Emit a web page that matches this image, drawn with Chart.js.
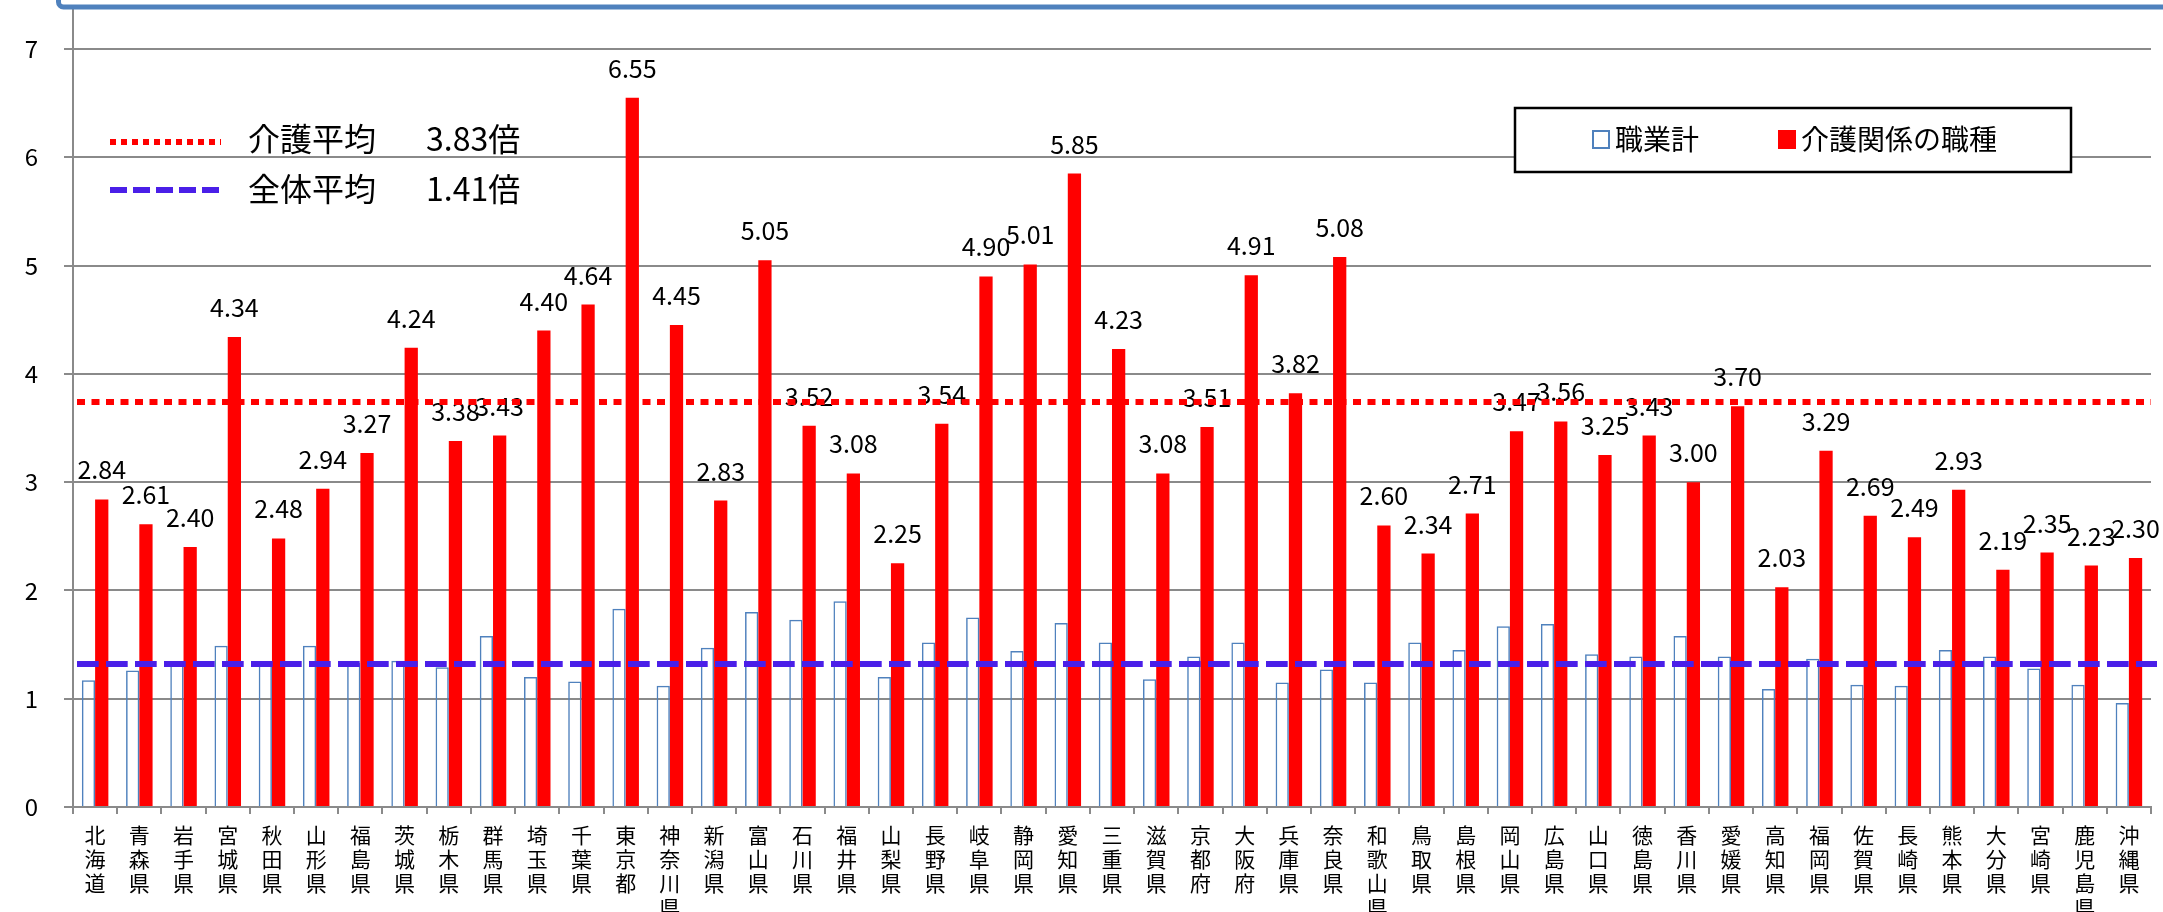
<!DOCTYPE html>
<html>
<head>
<meta charset="utf-8">
<script src="https://cdn.jsdelivr.net/npm/chart.js@4.4.1/dist/chart.umd.min.js"></script>
<style>
html,body{margin:0;padding:0;background:#fff;}
#wrap{width:2163px;height:912px;position:relative;}
</style>
</head>
<body>
<div id="wrap"><canvas id="c"></canvas></div>
<script>
// ---- data ----
const prefectures = ['北海道','青森県','岩手県','宮城県','秋田県','山形県','福島県','茨城県','栃木県','群馬県','埼玉県','千葉県','東京都','神奈川県','新潟県','富山県','石川県','福井県','山梨県','長野県','岐阜県','静岡県','愛知県','三重県','滋賀県','京都府','大阪府','兵庫県','奈良県','和歌山県','鳥取県','島根県','岡山県','広島県','山口県','徳島県','香川県','愛媛県','高知県','福岡県','佐賀県','長崎県','熊本県','大分県','宮崎県','鹿児島県','沖縄県'];
const allJobs = [1.17,1.26,1.33,1.49,1.33,1.49,1.33,1.35,1.29,1.58,1.20,1.16,1.83,1.12,1.47,1.80,1.73,1.90,1.20,1.52,1.75,1.44,1.70,1.52,1.18,1.39,1.52,1.15,1.27,1.15,1.52,1.45,1.67,1.69,1.41,1.39,1.58,1.39,1.09,1.37,1.13,1.12,1.45,1.39,1.28,1.13,0.96];
const careJobs = [2.84,2.61,2.40,4.34,2.48,2.94,3.27,4.24,3.38,3.43,4.40,4.64,6.55,4.45,2.83,5.05,3.52,3.08,2.25,3.54,4.90,5.01,5.85,4.23,3.08,3.51,4.91,3.82,5.08,2.60,2.34,2.71,3.47,3.56,3.25,3.43,3.00,3.70,2.03,3.29,2.69,2.49,2.93,2.19,2.35,2.23,2.30];
const yTickValues = [0,1,2,3,4,5,6,7];
const seriesNames = ['職業計','介護関係の職種'];
const careAvgLine = 3.74;
const allAvgLine = 1.32;
const avgLegendNames = ['介護平均','全体平均'];
const avgLegendValues = ['3.83倍','1.41倍'];

const xLabels = prefectures.map(p => Array.from(p));
const JP = '"Noto Sans CJK JP", "Noto Sans", sans-serif';
const GRID = '#8a8a8a';

const overlay = {
  id: 'overlay',
  afterDatasetsDraw(chart) {
    const ctx = chart.ctx, ys = chart.scales.y, ca = chart.chartArea;
    ctx.save();
    // value labels above red bars
    ctx.font = '25px ' + JP;
    ctx.fillStyle = '#000';
    ctx.textAlign = 'center';
    ctx.textBaseline = 'alphabetic';
    chart.getDatasetMeta(1).data.forEach((bar, i) => {
      ctx.fillText(careJobs[i].toFixed(2), bar.x, bar.y - 20);
    });
    // average lines
    ctx.lineCap = 'butt';
    let y = ys.getPixelForValue(careAvgLine);
    ctx.strokeStyle = '#FF0000'; ctx.lineWidth = 6; ctx.setLineDash([8, 6.5]);
    ctx.beginPath(); ctx.moveTo(ca.left + 4, y); ctx.lineTo(ca.right, y); ctx.stroke();
    y = ys.getPixelForValue(allAvgLine);
    ctx.strokeStyle = '#4A1FE8'; ctx.lineWidth = 6; ctx.setLineDash([21.7, 7.3]);
    ctx.beginPath(); ctx.moveTo(ca.left + 4, y); ctx.lineTo(ca.right + 6, y); ctx.stroke();
    ctx.restore();
  },
  afterDraw(chart) {
    const ctx = chart.ctx;
    ctx.save();
    // left legend for average lines
    ctx.lineCap = 'butt';
    ctx.strokeStyle = '#FF0000'; ctx.lineWidth = 6; ctx.setLineDash([6, 5]);
    ctx.beginPath(); ctx.moveTo(110, 142); ctx.lineTo(221, 142); ctx.stroke();
    ctx.strokeStyle = '#4A1FE8'; ctx.lineWidth = 6; ctx.setLineDash([17, 6]);
    ctx.beginPath(); ctx.moveTo(110, 190); ctx.lineTo(221, 190); ctx.stroke();
    ctx.setLineDash([]);
    ctx.font = '32px ' + JP; ctx.fillStyle = '#000';
    ctx.textAlign = 'left'; ctx.textBaseline = 'middle';
    ctx.fillText(avgLegendNames[0], 248, 139);
    ctx.fillText(avgLegendValues[0], 426, 139);
    ctx.fillText(avgLegendNames[1], 248, 189);
    ctx.fillText(avgLegendValues[1], 426, 189);
    // right legend box
    ctx.fillStyle = '#fff';
    ctx.fillRect(1515, 108, 556, 64);
    ctx.strokeStyle = '#000'; ctx.lineWidth = 2.5;
    ctx.strokeRect(1515, 108, 556, 64);
    ctx.strokeStyle = '#4F81BD'; ctx.lineWidth = 2;
    ctx.strokeRect(1593, 131, 16, 17);
    ctx.fillStyle = '#FF0000';
    ctx.fillRect(1778, 130, 18, 19);
    ctx.font = '28px ' + JP; ctx.fillStyle = '#000';
    ctx.fillText(seriesNames[0], 1615, 139);
    ctx.fillText(seriesNames[1], 1801, 139);
    // blue frame edge at top
    ctx.strokeStyle = '#4F81BD'; ctx.lineWidth = 5;
    ctx.beginPath();
    ctx.moveTo(58.5, -5); ctx.lineTo(58.5, 2);
    ctx.arcTo(58.5, 7, 64, 7, 5);
    ctx.lineTo(2170, 7);
    ctx.stroke();
    ctx.restore();
  }
};

new Chart(document.getElementById('c'), {
  type: 'bar',
  data: {
    labels: xLabels,
    datasets: [
      { label: seriesNames[0], data: allJobs, backgroundColor: 'rgba(255,255,255,0)', borderColor: '#4F81BD', borderWidth: 1.5, borderSkipped: 'start' },
      { label: seriesNames[1], data: careJobs, backgroundColor: '#FF0000', borderWidth: 0 }
    ]
  },
  options: {
    responsive: true,
    maintainAspectRatio: false,
    animation: false,
    events: [],
    layout: { padding: { top: 10, right: 12, left: 0, bottom: 0 } },
    datasets: { bar: { categoryPercentage: 0.6, barPercentage: 1.0 } },
    plugins: { legend: { display: false }, tooltip: { enabled: false }, title: { display: false } },
    scales: {
      x: {
        afterFit(s) { s.height = 105; s.paddingLeft = 0; s.paddingRight = 0; },
        grid: { display: true, drawOnChartArea: false, drawTicks: true, tickLength: 7, color: GRID, lineWidth: 2, offset: true },
        border: { display: true, color: GRID, width: 2 },
        ticks: { autoSkip: false, maxRotation: 0, minRotation: 0, padding: 9, color: '#000',
                 font: { family: JP, size: 21, lineHeight: 1.15 } }
      },
      y: {
        min: 0,
        max: 7.36,
        afterFit(s) { s.width = 73; s.paddingTop = 0; s.paddingBottom = 0; },
        afterBuildTicks(s) { s.ticks = yTickValues.map(v => ({ value: v })); },
        grid: { color: GRID, lineWidth: 2, tickLength: 9, drawTicks: true },
        border: { display: true, color: GRID, width: 2 },
        ticks: { padding: 26, color: '#000', font: { family: JP, size: 24 } }
      }
    }
  },
  plugins: [overlay]
});
</script>
</body>
</html>
